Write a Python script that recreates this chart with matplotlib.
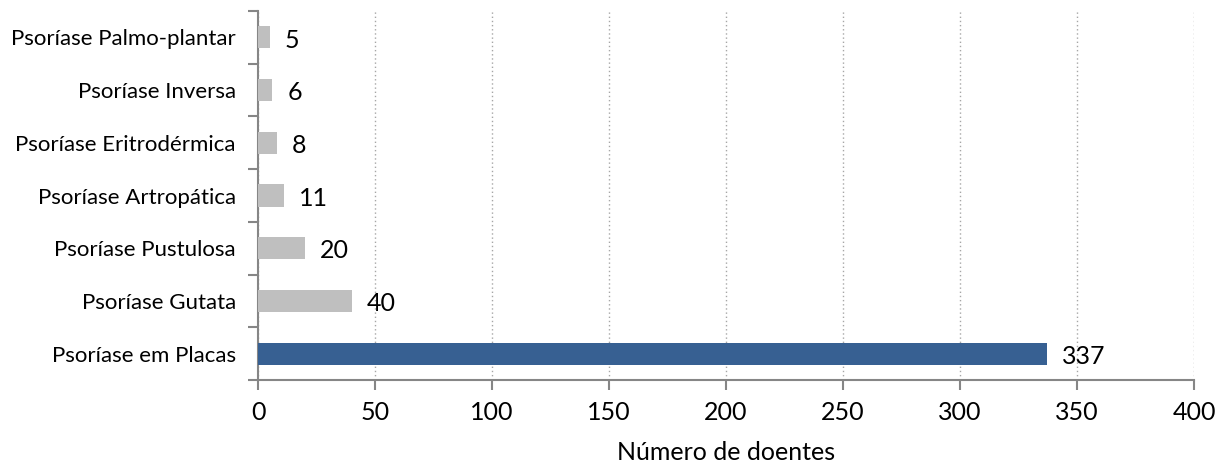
import matplotlib
matplotlib.use("Agg")
import matplotlib.pyplot as plt
import numpy as np

categories = ["Psoríase em Placas", "Psoríase Gutata", "Psoríase Pustulosa",
              "Psoríase Artropática", "Psoríase Eritrodérmica",
              "Psoríase Inversa", "Psoríase Palmo-plantar"]
values = [337, 40, 20, 11, 8, 6, 5]
bar_colors = ["#376092"] + ["#BFBFBF"] * 6
xticks = [0, 50, 100, 150, 200, 250, 300, 350, 400]

plt.rcParams["font.family"] = ["Lato", "DejaVu Sans"]

fig = plt.figure(figsize=(12.25, 4.68), dpi=100)
ax = fig.add_axes([258 / 1225, 1 - 380 / 468, (1194 - 258) / 1225, (380 - 11) / 468])

y = np.arange(len(categories))
ax.barh(y, values, height=0.42, color=bar_colors, zorder=3)

for yi, v in zip(y, values):
    ax.annotate(str(v), xy=(v, yi), xytext=(11, -2), textcoords="offset points",
                ha="left", va="center", fontsize=18, color="black", zorder=4)

ax.set_xlim(0, 400)
ax.set_ylim(-0.5, len(categories) - 0.5)
ax.set_xticks(xticks)
ax.set_xticklabels([str(t) for t in xticks], fontsize=18)
ax.xaxis.grid(True, linestyle=(0, (1, 2)), color="#A6A6A6", linewidth=1, zorder=0)

ax.set_yticks(y)
ax.set_yticklabels(categories, fontsize=16)
ax.set_yticks(np.arange(-0.5, len(categories), 1), minor=True)
ax.tick_params(axis="y", which="major", length=0, pad=16)
ax.tick_params(axis="y", which="minor", length=7, width=1.5, color="#868686", direction="out")
ax.tick_params(axis="x", which="major", length=7, width=1.5, color="#868686", direction="out", pad=8)

for side in ("top", "right"):
    ax.spines[side].set_visible(False)
for side in ("left", "bottom"):
    ax.spines[side].set_color("#868686")
    ax.spines[side].set_linewidth(1.5)

ax.set_xlabel("Número de doentes", fontsize=18, labelpad=12)

fig.savefig("out.png", dpi=100)
